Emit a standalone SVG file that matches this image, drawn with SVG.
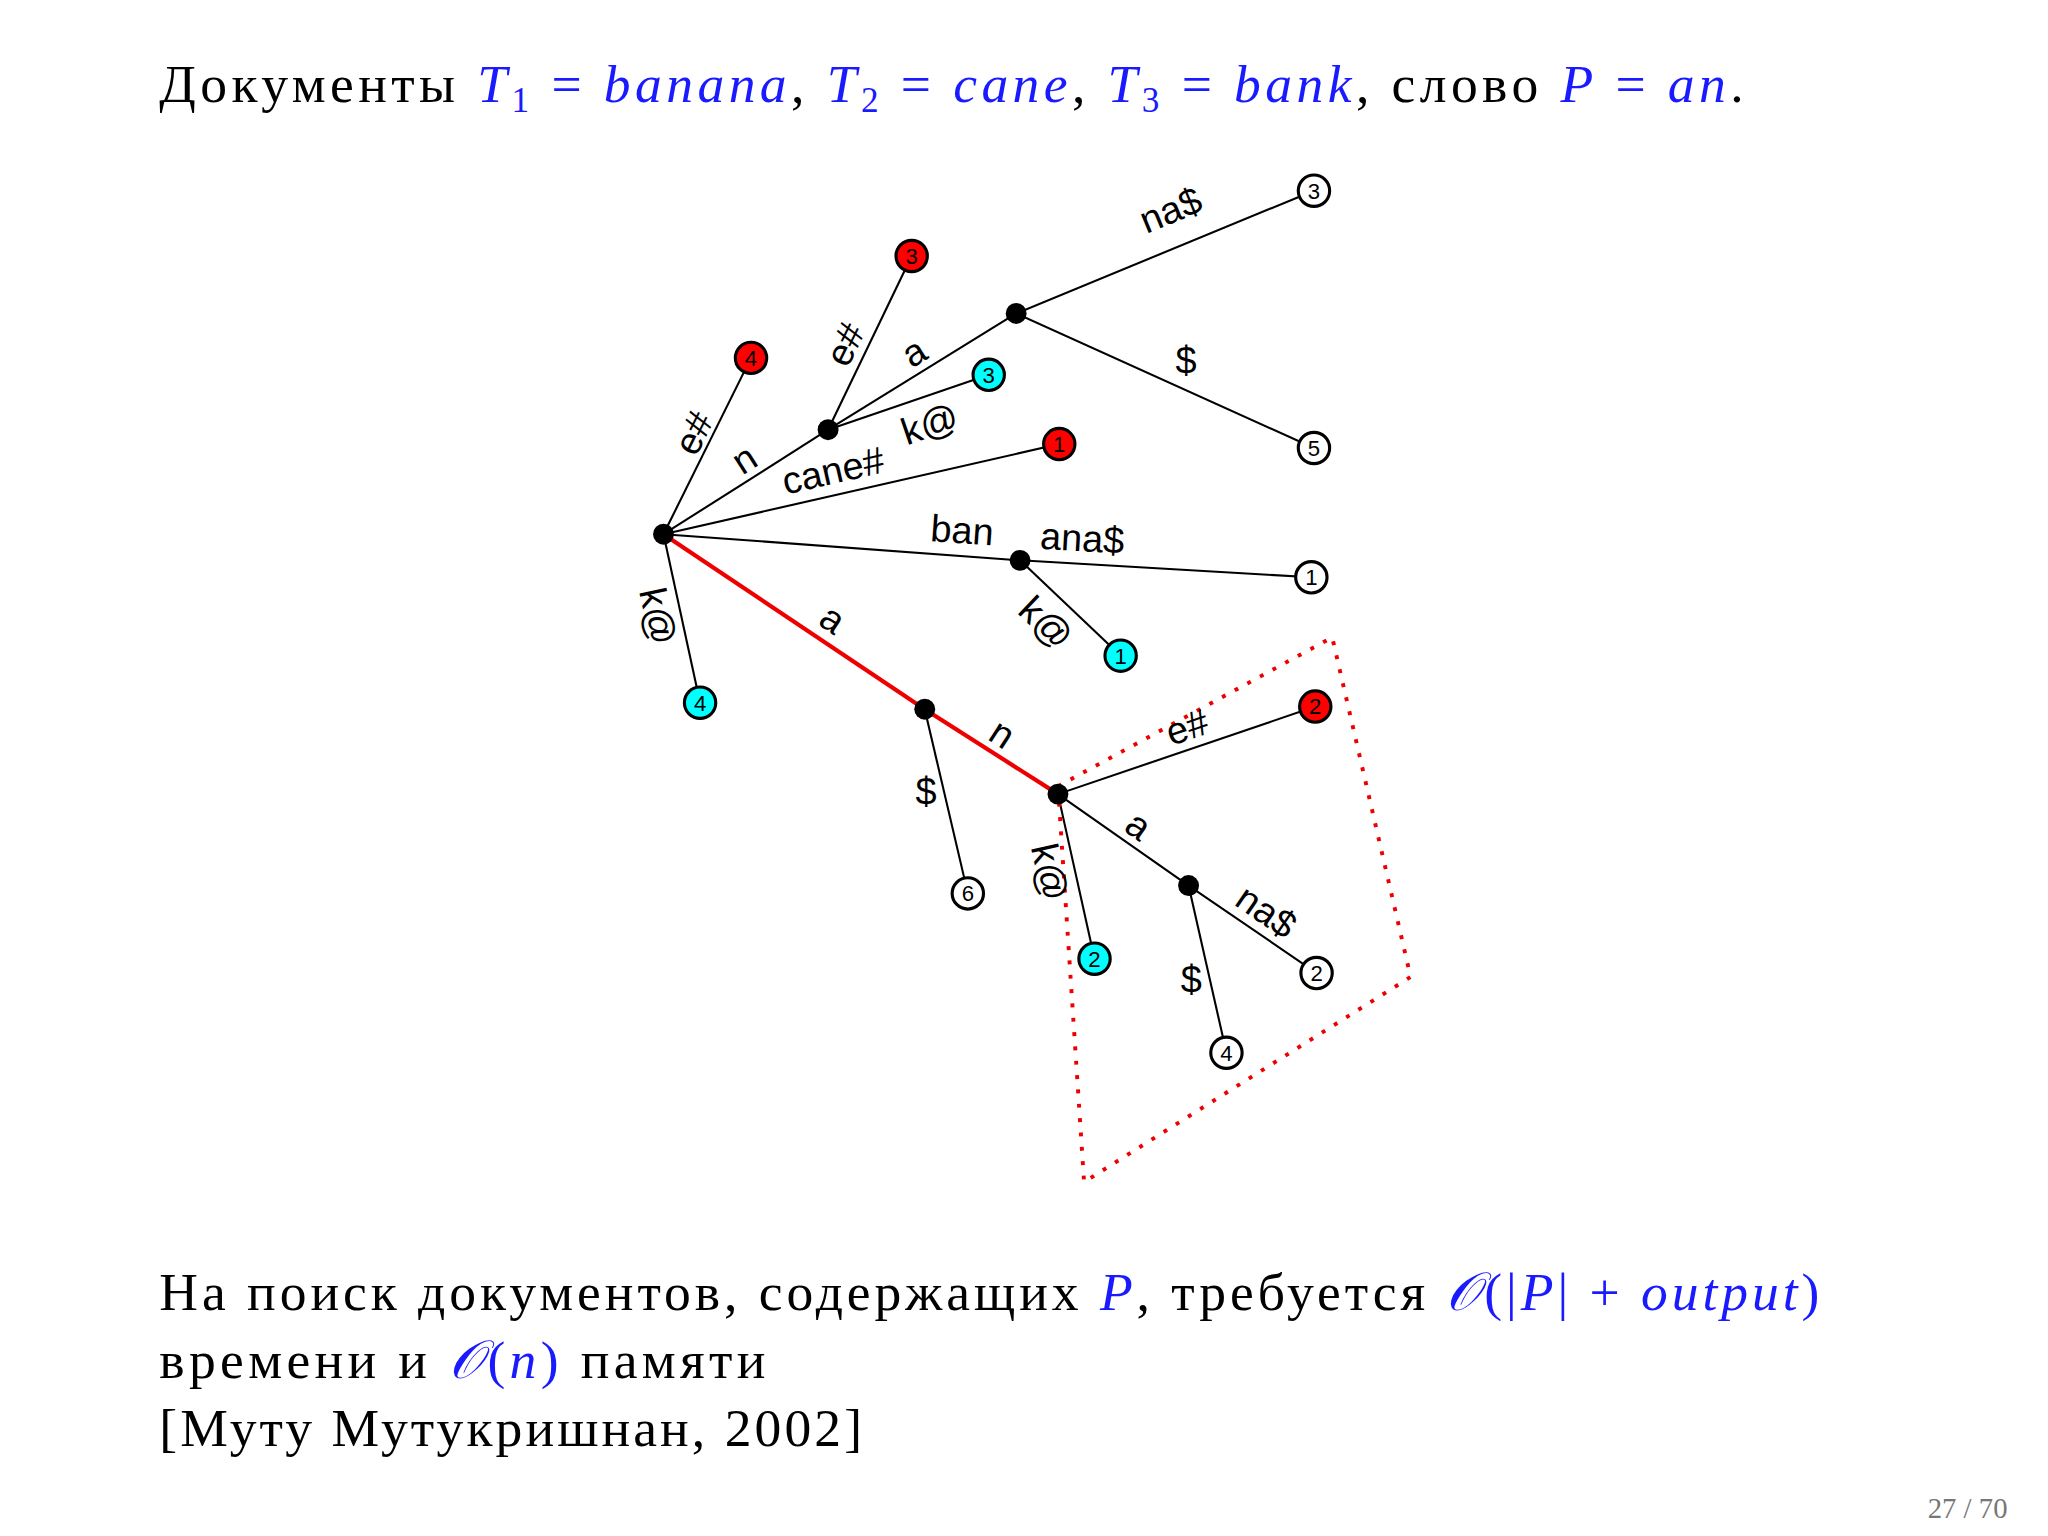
<svg xmlns="http://www.w3.org/2000/svg" width="2048" height="1536" viewBox="0 0 2048 1536">
<style>
.e{stroke:#000;stroke-width:1.6;fill:none}
.r{stroke:#e00;stroke-width:3.2;fill:none}
.lb{font-family:"Liberation Sans",Arial,sans-serif;font-size:29px;fill:#000;text-anchor:middle}
.lf{stroke:#000;stroke-width:2.4}
.ln{font-family:"Liberation Sans",Arial,sans-serif;font-size:17px;fill:#000;text-anchor:middle}
.t{font-family:"Liberation Serif","Times New Roman",serif;font-size:41px;fill:#000}
.b{fill:#1a1aff;font-style:italic}
.bn{fill:#1a1aff}
</style>
<rect width="2048" height="1536" fill="#fff"/>
<g transform="scale(1.30612)">
<text class="t" x="122" y="78" textLength="1213" lengthAdjust="spacing">Документы <tspan class="b">T</tspan><tspan class="bn" font-size="27" dy="8">1</tspan><tspan class="bn" dy="-8"> = </tspan><tspan class="b">banana</tspan>, <tspan class="b">T</tspan><tspan class="bn" font-size="27" dy="8">2</tspan><tspan class="bn" dy="-8"> = </tspan><tspan class="b">cane</tspan>, <tspan class="b">T</tspan><tspan class="bn" font-size="27" dy="8">3</tspan><tspan class="bn" dy="-8"> = </tspan><tspan class="b">bank</tspan>, слово <tspan class="b">P</tspan><tspan class="bn"> = </tspan><tspan class="b">an</tspan>.</text>
<g id="connectors">
<line class="e" x1="778" y1="240" x2="1006" y2="146"/>
<line class="e" x1="778" y1="240" x2="1006" y2="343"/>
<line class="e" x1="634" y1="329" x2="778" y2="240"/>
<line class="e" x1="634" y1="329" x2="698" y2="196"/>
<line class="e" x1="634" y1="329" x2="757" y2="287"/>
<line class="e" x1="508" y1="409" x2="634" y2="329"/>
<line class="e" x1="508" y1="409" x2="575" y2="274"/>
<line class="e" x1="508" y1="409" x2="811" y2="340"/>
<line class="e" x1="508" y1="409" x2="781" y2="429"/>
<line class="e" x1="781" y1="429" x2="1004" y2="442"/>
<line class="e" x1="781" y1="429" x2="858" y2="502"/>
<line class="e" x1="508" y1="409" x2="536" y2="538"/>
<line class="e" x1="708" y1="543" x2="741" y2="684"/>
<line class="e" x1="810" y1="608" x2="1007" y2="541"/>
<line class="e" x1="810" y1="608" x2="838" y2="734"/>
<line class="e" x1="810" y1="608" x2="910" y2="678"/>
<line class="e" x1="910" y1="678" x2="1008" y2="745"/>
<line class="e" x1="910" y1="678" x2="939" y2="806"/>
<line class="r" x1="508" y1="409" x2="708" y2="543"/>
<line class="r" x1="708" y1="543" x2="810" y2="608"/>
<polygon points="810,602 1020,488 1080,748 830,905" fill="none" stroke="#e00" stroke-width="3" stroke-dasharray="3,8"/>
</g>
<g id="labels">
<text class="lb" transform="translate(900,170) rotate(-22.4)">na$</text>
<text class="lb" transform="translate(908,286)">$</text>
<text class="lb" transform="translate(705,278) rotate(-31.7)">a</text>
<text class="lb" transform="translate(656,268) rotate(-64)">e#</text>
<text class="lb" transform="translate(715,334) rotate(-18.9)">k@</text>
<text class="lb" transform="translate(575,360) rotate(-32.4)">n</text>
<text class="lb" transform="translate(540,336) rotate(-63.6)">e#</text>
<text class="lb" transform="translate(640,370) rotate(-12.8)">cane#</text>
<text class="lb" transform="translate(736,416) rotate(4.2)">ban</text>
<text class="lb" transform="translate(828,422) rotate(3.3)">ana$</text>
<text class="lb" transform="translate(794,484) rotate(43.5)">k@</text>
<text class="lb" transform="translate(494,474) rotate(77.7)">k@</text>
<text class="lb" transform="translate(632,482) rotate(33.8)">a</text>
<text class="lb" transform="translate(762,570) rotate(33)">n</text>
<text class="lb" transform="translate(709,616)">$</text>
<text class="lb" transform="translate(794,670) rotate(77.5)">k@</text>
<text class="lb" transform="translate(912,566) rotate(-18.8)">e#</text>
<text class="lb" transform="translate(866,640) rotate(35)">a</text>
<text class="lb" transform="translate(964,706) rotate(34.4)">na$</text>
<text class="lb" transform="translate(912,760)">$</text>
</g>
<g id="nodes">
<g id="n_root"><circle cx="508" cy="409" r="8"/></g>
<g id="n1"><circle cx="634" cy="329" r="8"/></g>
<g id="n2"><circle cx="778" cy="240" r="8"/></g>
<g id="n3"><circle cx="781" cy="429" r="8"/></g>
<g id="n4"><circle cx="708" cy="543" r="8"/></g>
<g id="n5"><circle cx="810" cy="608" r="8"/></g>
<g id="n6"><circle cx="910" cy="678" r="8"/></g>
<g id="w3"><circle class="lf" cx="1006" cy="146" r="12" fill="#fff"/><text class="ln" x="1006" y="152">3</text></g>
<g id="w5"><circle class="lf" cx="1006" cy="343" r="12" fill="#fff"/><text class="ln" x="1006" y="349">5</text></g>
<g id="w1"><circle class="lf" cx="1004" cy="442" r="12" fill="#fff"/><text class="ln" x="1004" y="448">1</text></g>
<g id="w6"><circle class="lf" cx="741" cy="684" r="12" fill="#fff"/><text class="ln" x="741" y="690">6</text></g>
<g id="w2"><circle class="lf" cx="1008" cy="745" r="12" fill="#fff"/><text class="ln" x="1008" y="751">2</text></g>
<g id="w4"><circle class="lf" cx="939" cy="806" r="12" fill="#fff"/><text class="ln" x="939" y="812">4</text></g>
<g id="r3"><circle class="lf" cx="698" cy="196" r="12" fill="#f00"/><text class="ln" x="698" y="202">3</text></g>
<g id="r4"><circle class="lf" cx="575" cy="274" r="12" fill="#f00"/><text class="ln" x="575" y="280">4</text></g>
<g id="r1"><circle class="lf" cx="811" cy="340" r="12" fill="#f00"/><text class="ln" x="811" y="346">1</text></g>
<g id="r2"><circle class="lf" cx="1007" cy="541" r="12" fill="#f00"/><text class="ln" x="1007" y="547">2</text></g>
<g id="c3"><circle class="lf" cx="757" cy="287" r="12" fill="#0ff"/><text class="ln" x="757" y="293">3</text></g>
<g id="c1"><circle class="lf" cx="858" cy="502" r="12" fill="#0ff"/><text class="ln" x="858" y="508">1</text></g>
<g id="c4"><circle class="lf" cx="536" cy="538" r="12" fill="#0ff"/><text class="ln" x="536" y="544">4</text></g>
<g id="c2"><circle class="lf" cx="838" cy="734" r="12" fill="#0ff"/><text class="ln" x="838" y="740">2</text></g>
</g>
<text class="t" x="122" y="1003" textLength="1271" lengthAdjust="spacing">На поиск документов, содержащих <tspan class="b">P</tspan>, требуется <tspan class="b">𝒪</tspan><tspan class="bn">(|</tspan><tspan class="b">P</tspan><tspan class="bn">| + </tspan><tspan class="b">output</tspan><tspan class="bn">)</tspan></text>
<text class="t" x="122" y="1055" textLength="464" lengthAdjust="spacing">времени и <tspan class="b">𝒪</tspan><tspan class="bn">(</tspan><tspan class="b">n</tspan><tspan class="bn">)</tspan> памяти</text>
<text class="t" x="122" y="1107" textLength="538" lengthAdjust="spacing">[Муту Мутукришнан, 2002]</text>
<text x="1537" y="1162" font-family="Liberation Serif,serif" font-size="22" fill="#777" text-anchor="end">27 / 70</text>
</g>
</svg>
